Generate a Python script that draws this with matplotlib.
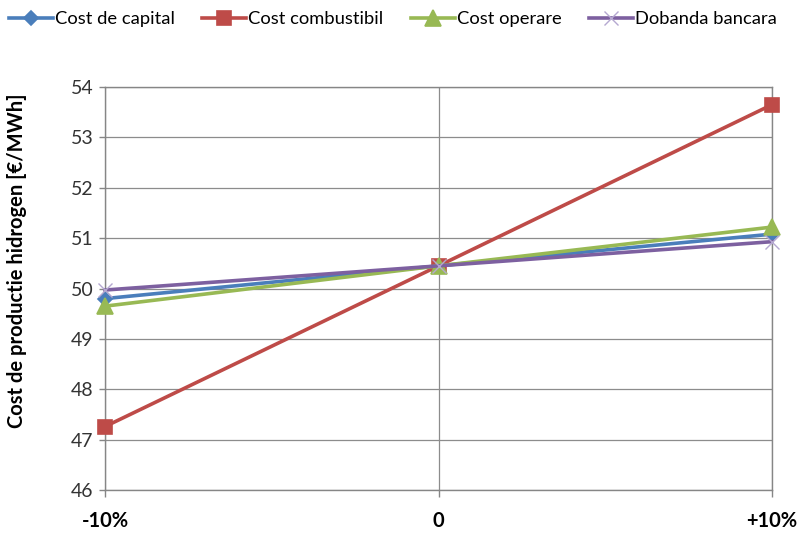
import matplotlib
matplotlib.use("Agg")
import matplotlib.pyplot as plt

plt.rcParams['font.family'] = ['Lato', 'DejaVu Sans']

categories = ["-10%", "0", "+10%"]
cost_capital = [49.80, 50.45, 51.08]
cost_combustibil = [47.26, 50.45, 53.65]
cost_operare = [49.65, 50.45, 51.22]
dobanda_bancara = [49.97, 50.45, 50.93]

series = [
    ("Cost de capital", cost_capital, "#4A7EBB", "D", 7.5),
    ("Cost combustibil", cost_combustibil, "#BE4B48", "s", 10),
    ("Cost operare", cost_operare, "#98B954", "^", 11),
    ("Dobanda bancara", dobanda_bancara, "#7D60A0", "x", 10),
]

fig = plt.figure(figsize=(8.02, 5.34), dpi=100)
ax = fig.add_axes([0.131, 0.0824, 0.8316, 0.7546])

x = list(range(len(categories)))
for name, vals, color, marker, ms in series:
    ax.plot(x, vals, color=color, lw=2.6, marker=marker, markersize=ms,
            markeredgewidth=1.2 if marker != "x" else 1.0,
            markeredgecolor=color if marker != "x" else "#B5A8D0",
            label=name, zorder=3, clip_on=False)

ax.set_xlim(0, 2)
ax.set_ylim(46, 54)
ax.set_yticks(range(46, 55))
ax.set_xticks(x)
ax.set_xticklabels(categories, fontsize=14.5, fontweight='bold')
ax.tick_params(axis='x', pad=10, length=5, color='#868686', width=1)
ax.tick_params(axis='y', labelsize=14, length=4.5, color='#868686', width=1,
               labelcolor='#333333', pad=4)

ax.grid(True, color='#8C8C8C', lw=0.9)
ax.set_axisbelow(True)
for s in ax.spines.values():
    s.set_color('#868686')
    s.set_linewidth(1)

ax.set_ylabel("Cost de productie hidrogen [€/MWh]", fontsize=14.5,
              fontweight='bold')
ax.yaxis.set_label_coords(-0.117, 0.57)

fig.legend(loc='upper center', bbox_to_anchor=(0.49, 1.01), ncol=4,
           frameon=False, fontsize=13.2, handlelength=2.4, handletextpad=0.1,
           columnspacing=1.5)

fig.savefig("out.png", dpi=100)
